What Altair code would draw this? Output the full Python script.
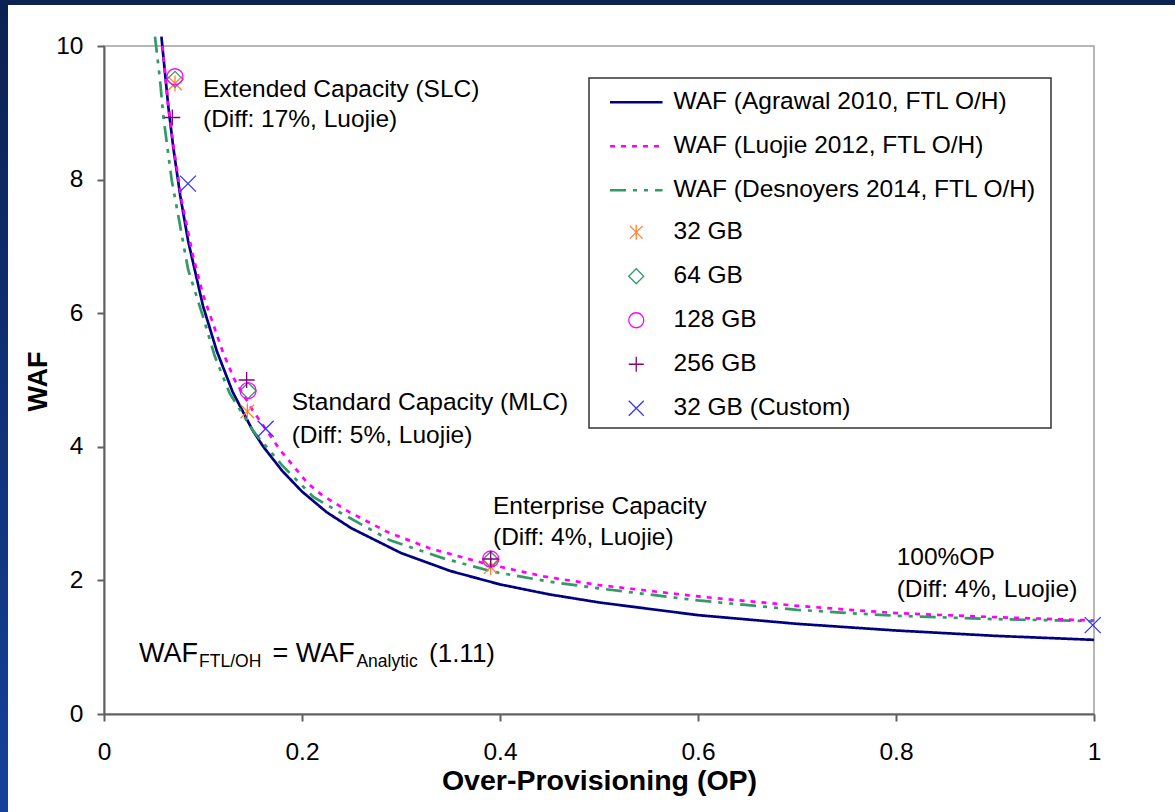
import altair as alt
import pandas as pd

# ---------------- data ----------------
agrawal_op = [0.058, 0.065, 0.070, 0.077, 0.085, 0.100, 0.114, 0.130, 0.150, 0.161, 0.180, 0.200,
              0.225, 0.250, 0.300, 0.350, 0.400, 0.450, 0.500, 0.600, 0.700, 0.800, 0.900, 1.000]
agrawal_waf = [10.14, 9.09, 8.48, 7.76, 7.08, 6.11, 5.43, 4.82, 4.25, 4.00, 3.64, 3.33,
               3.02, 2.78, 2.41, 2.14, 1.94, 1.79, 1.67, 1.48, 1.35, 1.25, 1.17, 1.11]

luojie_op = [0.059, 0.065, 0.070, 0.0785, 0.090, 0.100, 0.1205, 0.132, 0.150, 0.178, 0.206, 0.220,
             0.247, 0.2855, 0.329, 0.383, 0.444, 0.500, 0.600, 0.700, 0.7535, 0.800, 0.900, 1.000]
luojie_waf = [10.0, 9.10, 8.52, 7.68, 6.85, 6.28, 5.40, 5.00, 4.55, 3.95, 3.45, 3.28,
              3.03, 2.73, 2.48, 2.26, 2.06, 1.93, 1.76, 1.62, 1.56, 1.51, 1.45, 1.40]

desnoyers_op = [0.0515, 0.0566, 0.060, 0.0684, 0.0734, 0.085, 0.100, 0.112, 0.127, 0.151, 0.1795, 0.2114,
                0.2367, 0.289, 0.343, 0.393, 0.4505, 0.500, 0.600, 0.700, 0.7535, 0.800, 0.900, 1.000]
desnoyers_waf = [10.14, 9.49, 8.94, 7.99, 7.59, 6.65, 5.95, 5.35, 4.80, 4.23, 3.73, 3.25,
                 3.03, 2.60, 2.33, 2.13, 1.98, 1.88, 1.70, 1.56, 1.51, 1.47, 1.42, 1.39]

series_names = ["WAF (Agrawal 2010, FTL O/H)", "WAF (Luojie 2012, FTL O/H)", "WAF (Desnoyers 2014, FTL O/H)"]
series_colors = ["#000080", "#FF00FF", "#339966"]
series_dashes = [[1, 0], [5, 6], [16, 7, 4, 7, 4, 7]]

device_names = ["32 GB", "64 GB", "128 GB", "256 GB", "32 GB (Custom)"]
device_colors = ["#FF8033", "#339966", "#FF00FF", "#800080", "#3333FF"]
device_shapes = [
    "M0,-1L0,1M-0.85,-0.85L0.85,0.85M-0.85,0.85L0.85,-0.85",
    "diamond",
    "circle",
    "M-1,0L1,0M0,-1L0,1",
    "M-1,-1L1,1M-1,1L1,-1",
]
gb32_op = [0.0717, 0.1448, 0.3906]
gb32_waf = [9.44, 4.53, 2.20]
gb64_op = [0.0717, 0.1455, 0.3906]
gb64_waf = [9.50, 4.84, 2.31]
gb128_op = [0.0717, 0.1455, 0.3906]
gb128_waf = [9.54, 4.84, 2.32]
gb256_op = [0.0690, 0.1441, 0.3906]
gb256_waf = [8.93, 5.00, 2.32]
custom_op = [0.0848, 0.1633, 0.9987]
custom_waf = [7.94, 4.27, 1.33]

ann_text = ["Extended Capacity (SLC)", "(Diff: 17%, Luojie)",
            "Standard Capacity (MLC)", "(Diff: 5%, Luojie)",
            "Enterprise Capacity", "(Diff: 4%, Luojie)",
            "100%OP", "(Diff: 4%, Luojie)"]
ann_op = [0.100, 0.100, 0.1896, 0.1896, 0.3929, 0.3929, 0.8007, 0.8007]
ann_waf = [9.34, 8.89, 4.66, 4.16, 3.10, 2.63, 2.33, 1.86]

eq_text = ["WAF", "FTL/OH", "= WAF", "Analytic", "(1.11)"]
eq_op = [0.0354, 0.0960, 0.1702, 0.2550, 0.3283]
eq_waf = [0.898, 0.771, 0.898, 0.771, 0.898]
eq_size = [27, 17.5, 27, 17.5, 26]

x_ticks = [0, 0.2, 0.4, 0.6, 0.8, 1.0]
y_ticks = [0, 2, 4, 6, 8, 10]

# ---------------- tables ----------------
lines_df = pd.DataFrame({
    "op": agrawal_op + desnoyers_op + luojie_op,
    "waf": agrawal_waf + desnoyers_waf + luojie_waf,
    "series": [series_names[0]] * len(agrawal_op) + [series_names[2]] * len(desnoyers_op)
              + [series_names[1]] * len(luojie_op),
})
pts_op = [gb32_op, gb64_op, gb128_op, gb256_op, custom_op]
pts_waf = [gb32_waf, gb64_waf, gb128_waf, gb256_waf, custom_waf]
pts_rows = []
for name, ops, wafs in zip(device_names, pts_op, pts_waf):
    for o, w in zip(ops, wafs):
        pts_rows.append({"op": o, "waf": w, "device": name})
pts_df = pd.DataFrame(pts_rows)
ann_df = pd.DataFrame({"op": ann_op, "waf": ann_waf, "text": ann_text})
eq_df = pd.DataFrame({"op": eq_op, "waf": eq_waf, "text": eq_text, "fs": eq_size})

FONT = "Liberation Sans"
xs = alt.Scale(domain=[0, 1], nice=False, zero=False)
ys = alt.Scale(domain=[0, 10], nice=False, zero=False)

x_axis = alt.Axis(values=x_ticks, format="~g", title="Over-Provisioning (OP)", grid=False,
                  domainColor="#606060", domainWidth=2, tickColor="#606060", tickWidth=2, tickSize=7,
                  labelFont=FONT, labelFontSize=24.5, labelColor="black", labelPadding=19,
                  labelFlush=False, labelOverlap=False,
                  titleFont=FONT, titleFontSize=28.5, titleFontWeight="bold", titleColor="black",
                  titleBaseline="middle", titleY=66)
y_axis = alt.Axis(values=y_ticks, format="d", title="WAF", grid=False,
                  domainColor="#606060", domainWidth=2, tickColor="#606060", tickWidth=2, tickSize=7,
                  labelFont=FONT, labelFontSize=24.5, labelColor="black", labelPadding=14,
                  labelFlush=False, labelOverlap=False,
                  titleFont=FONT, titleFontSize=27, titleFontWeight="bold", titleColor="black",
                  titleAngle=270, titleBaseline="middle", titleAlign="center", titleX=-66, titleY=335)

one = alt.Data(values=[{}])
grad = alt.LinearGradient(gradient="linear",
                          stops=[alt.GradientStop(color="#0a2252", offset=0),
                                 alt.GradientStop(color="#15419a", offset=1)],
                          x1=0, x2=0, y1=0, y2=1)
left_strip = alt.Chart(one).mark_rect(color=grad).encode(
    x=alt.value(-104), x2=alt.value(-96), y=alt.value(-46), y2=alt.value(766))
top_strip = alt.Chart(one).mark_rect(color="#0b2352").encode(
    x=alt.value(-104), x2=alt.value(1071), y=alt.value(-46), y2=alt.value(-41))
legend_box = alt.Chart(one).mark_rect(fill="white", stroke="#333333", strokeWidth=1.5).encode(
    x=alt.value(485), x2=alt.value(947), y=alt.value(32), y2=alt.value(382))

line_legend = alt.Legend(title=None, orient="none", legendX=520, legendY=44,
                         symbolType="M-3.5,0L3.5,0", symbolSize=225, symbolStrokeWidth=2.5,
                         labelFont=FONT, labelFontSize=24.5, labelColor="black", labelOffset=25,
                         rowPadding=19, labelLimit=600)
pt_legend = alt.Legend(title=None, orient="none", legendX=520, legendY=174,
                       symbolSize=225, symbolStrokeWidth=1.3,
                       labelFont=FONT, labelFontSize=24.5, labelColor="black", labelOffset=25,
                       rowPadding=19, labelLimit=600)

lines = alt.Chart(lines_df).mark_line(strokeWidth=2.7, clip=False).encode(
    x=alt.X("op:Q", scale=xs, axis=x_axis),
    y=alt.Y("waf:Q", scale=ys, axis=y_axis),
    stroke=alt.Stroke("series:N", scale=alt.Scale(domain=series_names, range=series_colors), legend=line_legend),
    strokeDash=alt.StrokeDash("series:N", scale=alt.Scale(domain=series_names, range=series_dashes),
                              legend=line_legend),
)
points = alt.Chart(pts_df).mark_point(filled=False, size=256, strokeWidth=1.3, opacity=1).encode(
    x=alt.X("op:Q", scale=xs),
    y=alt.Y("waf:Q", scale=ys),
    color=alt.Color("device:N", scale=alt.Scale(domain=device_names, range=device_colors), legend=pt_legend),
    shape=alt.Shape("device:N", scale=alt.Scale(domain=device_names, range=device_shapes), legend=pt_legend),
)
ann = alt.Chart(ann_df).mark_text(align="left", baseline="middle", font=FONT, fontSize=24.5,
                                   color="black").encode(
    x=alt.X("op:Q", scale=xs), y=alt.Y("waf:Q", scale=ys), text="text:N")
eq = alt.Chart(eq_df).mark_text(align="left", baseline="middle", font=FONT, color="black").encode(
    x=alt.X("op:Q", scale=xs), y=alt.Y("waf:Q", scale=ys), text="text:N",
    size=alt.Size("fs:Q", scale=None, legend=None))

chart = alt.layer(left_strip, top_strip, legend_box, lines, points, ann, eq).properties(
    width=990, height=668,
    padding={"left": 104, "top": 46, "right": 81, "bottom": 98},
    autosize=alt.AutoSizeParams(type="none"),
    background="white",
).configure_view(stroke="#A0A0A0", strokeWidth=1.5)

chart.save("out.html", embed_options={"renderer": "svg", "actions": False})
